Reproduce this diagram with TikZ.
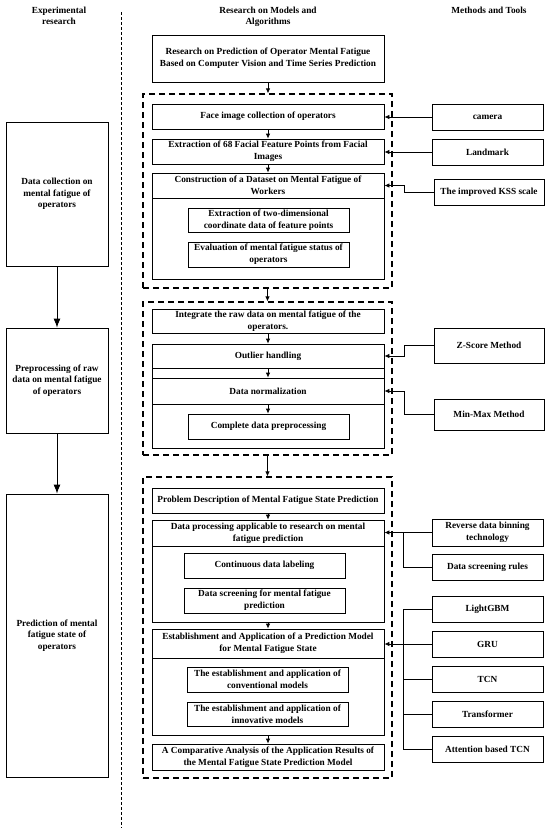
\documentclass[tikz,border=0pt]{standalone}
\usepackage{fontspec}
\setmainfont{Liberation Serif}
\usetikzlibrary{arrows.meta}
\begin{document}
\begin{tikzpicture}[x=1pt,y=-1pt,
  txt/.style={font=\bfseries\fontsize{9.3}{11.6}\selectfont, align=center, inner sep=0pt},
  bx/.style={txt, draw, line width=0.8pt},
  dbox/.style={draw, line width=1.3pt, dash pattern=on 6pt off 4pt},
  sepline/.style={draw, line width=0.8pt, dash pattern=on 3pt off 2pt},
  arr/.style={line width=0.8pt, -{Latex[length=5pt,width=4.5pt]}},
  bigarr/.style={line width=0.9pt, -{Latex[length=9pt,width=7pt]}},
  ln/.style={line width=0.8pt}]
\useasboundingbox (0,0) rectangle (550,833);
% headers
\node[txt, anchor=north] (hexp) at (59,6.5) {Experimental\\research};
\node[txt, anchor=north] (hmid) at (268,6.5) {Research on Models and\\Algorithms};
\node[txt, anchor=north] (htools) at (489,6.5) {Methods and Tools};
% separator
\coordinate (s1) at (121,12);
\coordinate (s2) at (121,828);
\draw[sepline] (s1) -- (s2);
% left column
\node[bx, minimum width=102, minimum height=144] (L1) at (57,194) {Data collection on\\mental fatigue of\\operators};
\node[bx, minimum width=102, minimum height=105] (L2) at (57,380.5) {Preprocessing of raw\\data on mental fatigue\\of operators};
\node[bx, minimum width=102, minimum height=283] (L3) at (57,635.5) {Prediction of mental\\fatigue state of\\operators};
\draw[bigarr] (L1.south) -- (L2.north);
\draw[bigarr] (L2.south) -- (L3.north);
% dashed groups
\node[dbox, minimum width=249, minimum height=194] (D1) at (267.5,191) {};
\node[dbox, minimum width=249, minimum height=153] (D2) at (267.5,378.5) {};
\node[dbox, minimum width=249, minimum height=301] (D3) at (267.5,627.5) {};
% middle top
\node[bx, minimum width=232, minimum height=47] (top) at (268,58.5) {Research on Prediction of Operator Mental Fatigue\\Based on Computer Vision and Time Series Prediction};
\draw[arr] (top.south) -- (top.south |- D1.north);
% group 1
\node[bx, minimum width=232, minimum height=25] (face) at (268,116.5) {Face image collection of operators};
\node[bx, minimum width=232, minimum height=25] (extr) at (268,151.5) {Extraction of 68 Facial Feature Points from Facial\\Images};
\node[bx, minimum width=232, minimum height=106] (constr) at (268,226) {};
\node[bx, minimum width=232, minimum height=25] (constrH) at (268,185.5) {Construction of a Dataset on Mental Fatigue of\\Workers};
\node[bx, minimum width=161, minimum height=24] (in1) at (268.5,220) {Extraction of two-dimensional\\coordinate data of feature points};
\node[bx, minimum width=161, minimum height=25] (in2) at (268.5,254.5) {Evaluation of mental fatigue status of\\operators};
\draw[arr] (face.south) -- (extr.north);
\draw[arr] (extr.south) -- (constrH.north);
\draw[arr] (D1.south) -- (D2.north);
% group 2
\node[bx, minimum width=232, minimum height=24] (integ) at (268,321) {Integrate the raw data on mental fatigue of the\\operators.};
\node[bx, minimum width=232, minimum height=104] (outl) at (268,396) {};
\node[bx, minimum width=232, minimum height=24] (outlH) at (268,356) {Outlier handling};
\node[bx, minimum width=232, minimum height=26] (norm) at (268,391) {Data normalization};
\node[bx, minimum width=161, minimum height=25] (cpl) at (268.5,426.5) {Complete data preprocessing};
\draw[arr] (integ.south) -- (outlH.north);
\draw[arr] (outlH.south) -- (norm.north);
\draw[arr] (norm.south) -- (norm.south |- cpl.north);
\draw[arr] (D2.south) -- (D3.north);
% group 3
\node[bx, minimum width=232, minimum height=25] (prob) at (268,500.5) {Problem Description of Mental Fatigue State Prediction};
\node[bx, minimum width=232, minimum height=102] (dp) at (268,571) {};
\node[bx, minimum width=232, minimum height=26] (dpH) at (268,533) {Data processing applicable to research on mental\\fatigue prediction};
\node[bx, minimum width=161, minimum height=25] (cdl) at (264.5,565.5) {Continuous data labeling};
\node[bx, minimum width=161, minimum height=25] (dsf) at (264.5,600.5) {Data screening for mental fatigue\\prediction};
\node[bx, minimum width=232, minimum height=106] (est) at (268,682) {};
\node[bx, minimum width=232, minimum height=29] (estH) at (268,643.5) {Establishment and Application of a Prediction Model\\for Mental Fatigue State};
\node[bx, minimum width=161, minimum height=25] (conv) at (267.5,679.5) {The establishment and application of\\conventional models};
\node[bx, minimum width=161, minimum height=24] (innov) at (267.5,714) {The establishment and application of\\innovative models};
\node[bx, minimum width=232, minimum height=26] (comp) at (268,757) {A Comparative Analysis of the Application Results of\\the Mental Fatigue State Prediction Model};
\draw[arr] (prob.south) -- (dpH.north);
\draw[arr] (dp.south) -- (estH.north);
\draw[arr] (est.south) -- (comp.north);
% right column
\node[bx, minimum width=111, minimum height=26] (camera) at (487.5,117) {camera};
\node[bx, minimum width=111, minimum height=26] (landmark) at (487.5,152) {Landmark};
\node[bx, minimum width=110, minimum height=26] (kss) at (489,192) {The improved KSS scale};
\node[bx, minimum width=110, minimum height=35] (zscore) at (489,345.5) {Z-Score Method};
\node[bx, minimum width=110, minimum height=31] (minmax) at (489,414.5) {Min-Max Method};
\node[bx, minimum width=111, minimum height=27] (rev) at (487.5,532.5) {Reverse data binning\\technology};
\node[bx, minimum width=111, minimum height=26] (dsr) at (487.5,567) {Data screening rules};
\node[bx, minimum width=111, minimum height=26] (lgbm) at (487.5,609) {LightGBM};
\node[bx, minimum width=111, minimum height=26] (gru) at (487.5,644) {GRU};
\node[bx, minimum width=111, minimum height=26] (tcn) at (487.5,679) {TCN};
\node[bx, minimum width=111, minimum height=26] (trans) at (487.5,714) {Transformer};
\node[bx, minimum width=111, minimum height=26] (att) at (487.5,749) {Attention based TCN};
% right connectors
\draw[arr] (camera.west) -- (camera.west -| face.east);
\draw[arr] (landmark.west) -- (landmark.west -| extr.east);
\draw[arr] (kss.west) -- ++(-29,0) |- (constrH.east);
\draw[arr] (zscore.west) -- ++(-29,0) |- (outlH.east);
\draw[arr] (minmax.west) -- ++(-29,0) |- (norm.east);
\draw[arr] (rev.west) -- (rev.west -| dpH.east);
\draw[ln] (dsr.west) -- ++(-28,0) |- (rev.west);
\draw[arr] (gru.west) -- (gru.west -| estH.east);
\draw[ln] (lgbm.west) -- ++(-28,0) |- (att.west);
\draw[ln] (tcn.west) -- ++(-28,0);
\draw[ln] (trans.west) -- ++(-28,0);
\end{tikzpicture}
\end{document}
